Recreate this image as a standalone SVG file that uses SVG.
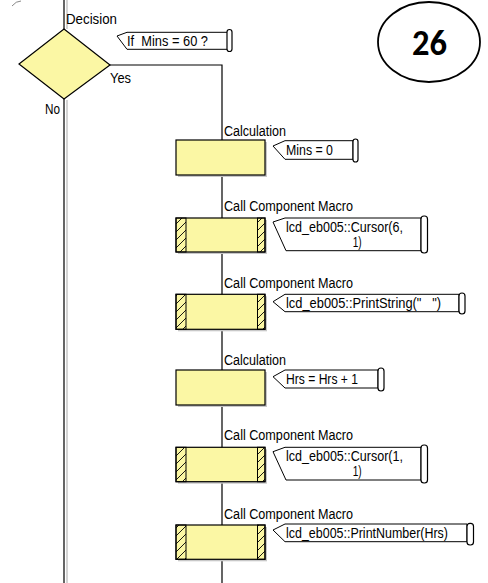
<svg xmlns="http://www.w3.org/2000/svg" width="488" height="583" viewBox="0 0 488 583">
<defs>
<pattern id="hatch" patternUnits="userSpaceOnUse" width="8" height="8">
<path d="M0,8 L8,0 M-2,2 L2,-2 M6,10 L10,6" stroke="#000" stroke-width="0.9"/>
</pattern>
</defs>
<style>
text{font-family:"Liberation Sans",Arial,sans-serif;font-size:14px;fill:#000;white-space:pre}
.ln{stroke:#000;stroke-width:1.2;fill:none}
.sh{stroke:#d4d4d4;stroke-width:2;fill:none}
.box{fill:#FBF7A4;stroke:#000;stroke-width:1.2}
.bshadow{fill:#c8c8c8}
.bar{fill:url(#hatch);stroke:#000;stroke-width:1}
.cm{fill:#fff;stroke:#000;stroke-width:1}
.scroll{fill:#fff;stroke:#000;stroke-width:1.2}
</style>
<rect width="488" height="583" fill="#fff"/>
<g id="connectors">
<path class="sh" d="M67,0 V29 M67,100 V583"/>
<path class="ln" d="M64,0 V29 M64,99 V583"/>
<path class="ln" d="M110,65 H222 V583"/>
<path d="M12,6 Q16,1 21,1" stroke="#888" stroke-width="1" fill="none"/>
</g>
<g id="decision">
<polygon points="64,29 110,65 64,99 19,64" class="box"/>
<text x="66" y="24" textLength="51" lengthAdjust="spacingAndGlyphs">Decision</text>
<path class="cm" d="M127,32.3 H228 V49.3 H127 L117,36 Z"/>
<rect class="scroll" x="227" y="29.5" width="5" height="22" rx="2.5"/>
<text x="127" y="45.5" textLength="81" lengthAdjust="spacingAndGlyphs" xml:space="preserve">If  Mins = 60 ?</text>
<text x="110" y="82.5" textLength="21" lengthAdjust="spacingAndGlyphs">Yes</text>
<text x="45" y="113.5" textLength="15" lengthAdjust="spacingAndGlyphs">No</text>
</g>
<g id="calc1">
<text x="224" y="135.5" textLength="62" lengthAdjust="spacingAndGlyphs">Calculation</text>
<rect class="bshadow" x="178" y="142" width="89" height="35"/>
<rect class="box" x="176" y="140" width="89" height="35"/>
<path class="cm" d="M285,140.7 H353 V159.3 H285 L273,146 Z"/>
<rect class="scroll" x="353" y="139" width="5" height="23" rx="2.5"/>
<text x="286" y="154.5" textLength="47" lengthAdjust="spacingAndGlyphs">Mins = 0</text>
</g>
<g id="macro1">
<text x="224" y="210.5" textLength="129" lengthAdjust="spacingAndGlyphs">Call Component Macro</text>
<rect class="bshadow" x="178" y="220" width="89" height="34"/>
<rect class="box" x="176" y="218" width="89" height="34"/>
<rect class="bar" x="176" y="218" width="10" height="34"/>
<rect class="bar" x="257.5" y="218" width="7.5" height="34"/>
<path class="cm" d="M285,218 H421 V250.7 H286 L273,222 Z"/>
<rect class="scroll" x="421" y="216" width="6.5" height="37" rx="3"/>
<text x="286" y="231.5" textLength="117" lengthAdjust="spacingAndGlyphs">lcd_eb005::Cursor(6,</text>
<text x="352.7" y="246.5" textLength="9" lengthAdjust="spacingAndGlyphs">1)</text>
</g>
<g id="macro2">
<text x="224" y="288" textLength="129" lengthAdjust="spacingAndGlyphs">Call Component Macro</text>
<rect class="bshadow" x="178" y="296.3" width="89" height="35"/>
<rect class="box" x="176" y="294.3" width="89" height="35"/>
<rect class="bar" x="176" y="294.3" width="10" height="35"/>
<rect class="bar" x="257.5" y="294.3" width="7.5" height="35"/>
<path class="cm" d="M285,294.3 H459 V311.7 H285 L273,301.7 Z"/>
<rect class="scroll" x="459" y="293" width="6" height="21" rx="3"/>
<text x="286" y="307.5" textLength="155" lengthAdjust="spacingAndGlyphs" xml:space="preserve">lcd_eb005::PrintString("   ")</text>
</g>
<g id="calc2">
<text x="224" y="364.5" textLength="62" lengthAdjust="spacingAndGlyphs">Calculation</text>
<rect class="bshadow" x="178" y="372" width="89" height="35"/>
<rect class="box" x="176" y="370" width="89" height="35"/>
<path class="cm" d="M285,370 H378 V388 H285 L273,376.7 Z"/>
<rect class="scroll" x="378" y="368" width="6" height="23" rx="3"/>
<text x="286" y="383.5" textLength="72" lengthAdjust="spacingAndGlyphs">Hrs = Hrs + 1</text>
</g>
<g id="macro3">
<text x="224" y="439.5" textLength="129" lengthAdjust="spacingAndGlyphs">Call Component Macro</text>
<rect class="bshadow" x="178" y="449.3" width="89" height="34.4"/>
<rect class="box" x="176" y="447.3" width="89" height="34.4"/>
<rect class="bar" x="176" y="447.3" width="10" height="34.4"/>
<rect class="bar" x="257.5" y="447.3" width="7.5" height="34.4"/>
<path class="cm" d="M285,447.3 H421 V480 H286 L273,451.7 Z"/>
<rect class="scroll" x="421" y="445" width="6.5" height="38" rx="3"/>
<text x="286" y="460.5" textLength="117" lengthAdjust="spacingAndGlyphs">lcd_eb005::Cursor(1,</text>
<text x="352.7" y="475.5" textLength="9" lengthAdjust="spacingAndGlyphs">1)</text>
</g>
<g id="macro4">
<text x="224" y="519" textLength="129" lengthAdjust="spacingAndGlyphs">Call Component Macro</text>
<rect class="bshadow" x="178" y="527" width="89" height="34.3"/>
<rect class="box" x="176" y="525" width="89" height="34.3"/>
<rect class="bar" x="176" y="525" width="10" height="34.3"/>
<rect class="bar" x="257.5" y="525" width="7.5" height="34.3"/>
<path class="cm" d="M285,524 H467 V541.7 H285 L273,530 Z"/>
<rect class="scroll" x="467" y="523.3" width="6.5" height="21.7" rx="3"/>
<text x="286" y="538" textLength="162" lengthAdjust="spacingAndGlyphs">lcd_eb005::PrintNumber(Hrs)</text>
</g>
<g id="badge">
<ellipse cx="429" cy="42" rx="51" ry="40" fill="#fff" stroke="#000" stroke-width="1.8"/>
<text x="429.5" y="55" text-anchor="middle" style="font-family:Carlito,'Liberation Sans',sans-serif;font-size:37px;font-weight:bold" textLength="35" lengthAdjust="spacingAndGlyphs">26</text>
</g>
</svg>
